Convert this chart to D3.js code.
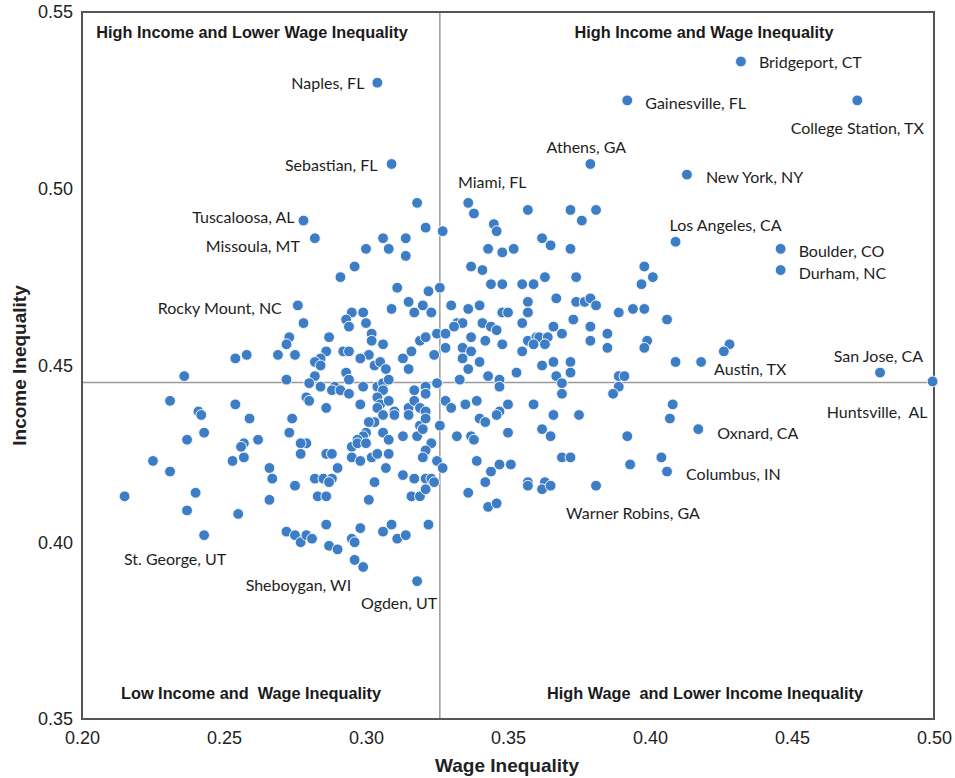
<!DOCTYPE html>
<html><head><meta charset="utf-8">
<script src="https://cdn.jsdelivr.net/npm/d3@7"></script>
<style>body{margin:0;background:#fff} svg{display:block}</style>
</head><body><svg id="c" width="955" height="778"></svg>
<script>
// ---------------- DATA ----------------
const xTicks = [0.20, 0.25, 0.30, 0.35, 0.40, 0.45, 0.50];
const yTicks = [0.35, 0.40, 0.45, 0.50, 0.55];
const xTitle = "Wage Inequality";
const yTitle = "Income Inequality";
const meanWage = 0.326;
const meanIncome = 0.4452;
const quadrantNames = ["High Income and Lower Wage Inequality", "High Income and Wage Inequality",
  "Low Income and  Wage Inequality", "High Wage  and Lower Income Inequality"];

const cityNames = ["Naples, FL","Sebastian, FL","Athens, GA","Miami, FL","Bridgeport, CT","Gainesville, FL",
  "College Station, TX","New York, NY","Los Angeles, CA","Boulder, CO","Durham, NC","San Jose, CA",
  "Huntsville,  AL","Austin, TX","Oxnard, CA","Columbus, IN","Warner Robins, GA","Ogden, UT",
  "Sheboygan, WI","St. George, UT","Rocky Mount, NC","Missoula, MT","Tuscaloosa, AL"];
const cityWage =   [0.304,0.309,0.379,0.336,0.432,0.392,0.473,0.413,0.409,0.446,0.446,0.481,
  0.4995,0.418,0.417,0.406,0.381,0.318,0.299,0.243,0.276,0.282,0.278];
const cityIncome = [0.530,0.507,0.507,0.496,0.536,0.525,0.525,0.504,0.485,0.483,0.477,0.448,
  0.4455,0.451,0.432,0.420,0.416,0.389,0.393,0.402,0.467,0.486,0.491];

const metroWage = [
 0.318,0.321,0.306,0.314,0.300,0.308,0.314,0.296,0.291,0.311,0.322,0.315,0.320,0.295,0.299,0.309,0.317,
 0.338,0.357,0.372,0.381,0.376,0.327,0.345,0.346,0.362,0.365,0.372,0.343,0.348,0.352,0.337,0.341,0.344,
 0.348,0.355,0.359,0.363,0.374,0.326,0.367,0.374,0.377,0.379,0.381,0.357,0.323,0.330,0.336,0.340,0.348,
 0.350,0.357,0.389,0.394,0.398,
 0.278,0.293,0.294,0.300,0.302,0.302,0.306,0.273,0.272,0.287,0.254,0.258,0.269,0.275,0.286,0.284,0.282,
 0.284,0.292,0.294,0.301,0.298,0.313,0.316,0.319,0.321,0.303,0.305,0.307,0.315,0.293,0.282,0.272,0.280,
 0.284,0.289,0.288,0.294,0.291,0.294,0.299,0.304,0.306,0.308,0.306,0.317,0.321,0.254,0.259,0.274,0.273,
 0.279,0.280,0.286,0.298,0.304,0.305,0.304,0.308,0.310,0.310,0.306,0.303,0.301,0.315,0.317,0.319,0.321,
 0.315,0.319,0.321,0.300,0.299,0.297,0.306,0.308,0.313,0.318,0.320,0.257,0.262,0.279,
 0.373,0.332,0.334,0.331,0.341,0.344,0.346,0.355,0.366,0.379,0.385,0.369,0.325,0.328,0.337,0.342,0.348,
 0.328,0.334,0.337,0.334,0.324,0.357,0.360,0.361,0.364,0.363,0.359,0.355,0.379,0.385,0.340,0.336,0.353,
 0.362,0.366,0.372,0.372,0.367,0.369,0.369,0.343,0.347,0.347,0.333,0.325,0.321,0.389,0.391,0.389,0.387,
 0.328,0.330,0.335,0.339,0.350,0.347,0.346,0.340,0.342,0.359,0.366,0.375,0.326,0.332,0.337,0.338,0.350,
 0.362,0.365,0.323,0.392,
 0.398,0.401,0.397,0.406,0.399,0.398,0.428,0.426,0.409,0.408,0.407,0.404,
 0.256,0.253,0.257,0.266,0.267,0.266,0.255,0.275,0.277,0.277,0.282,0.285,0.288,0.287,0.290,0.286,0.288,
 0.283,0.286,0.295,0.297,0.300,0.295,0.298,0.302,0.304,0.308,0.307,0.303,0.301,0.313,0.317,0.316,0.319,
 0.321,0.321,0.272,0.275,0.277,0.279,0.281,0.286,0.287,0.290,0.295,0.296,0.298,0.296,0.306,0.309,0.311,
 0.314,0.322,
 0.321,0.320,0.325,0.327,0.339,0.347,0.351,0.344,0.342,0.336,0.343,0.346,0.323,0.324,0.357,0.357,0.363,
 0.362,0.365,0.369,0.372,0.393,
 0.236,0.231,0.241,0.242,0.243,0.237,0.225,0.231,0.215,0.240,0.237];
const metroIncome = [
 0.496,0.489,0.486,0.486,0.483,0.483,0.481,0.478,0.475,0.472,0.471,0.468,0.467,0.465,0.465,0.466,0.465,
 0.493,0.494,0.494,0.494,0.491,0.488,0.490,0.488,0.486,0.484,0.483,0.483,0.482,0.483,0.478,0.477,0.473,
 0.473,0.473,0.473,0.475,0.475,0.472,0.469,0.468,0.468,0.469,0.467,0.468,0.465,0.467,0.466,0.467,0.465,
 0.465,0.465,0.465,0.466,0.466,
 0.462,0.463,0.461,0.462,0.459,0.457,0.456,0.458,0.456,0.458,0.452,0.453,0.453,0.453,0.454,0.452,0.451,
 0.450,0.454,0.454,0.453,0.452,0.452,0.454,0.457,0.458,0.450,0.451,0.449,0.449,0.448,0.447,0.446,0.445,
 0.444,0.444,0.443,0.446,0.443,0.442,0.444,0.444,0.445,0.446,0.443,0.443,0.444,0.439,0.435,0.435,0.431,
 0.441,0.440,0.438,0.439,0.441,0.439,0.438,0.440,0.437,0.436,0.436,0.434,0.434,0.438,0.440,0.438,0.437,
 0.436,0.433,0.435,0.431,0.430,0.429,0.431,0.429,0.430,0.430,0.432,0.428,0.429,0.428,
 0.463,0.462,0.462,0.461,0.462,0.461,0.460,0.462,0.461,0.461,0.459,0.459,0.459,0.459,0.458,0.457,0.456,
 0.455,0.455,0.454,0.452,0.453,0.457,0.458,0.458,0.458,0.456,0.456,0.454,0.457,0.455,0.451,0.449,0.448,
 0.450,0.451,0.451,0.448,0.447,0.445,0.442,0.447,0.446,0.444,0.446,0.445,0.442,0.447,0.447,0.444,0.442,
 0.440,0.438,0.439,0.440,0.439,0.437,0.436,0.435,0.434,0.439,0.436,0.436,0.433,0.430,0.430,0.429,0.431,
 0.432,0.430,0.428,0.430,
 0.478,0.475,0.473,0.463,0.457,0.455,0.456,0.454,0.451,0.439,0.435,0.424,
 0.427,0.423,0.424,0.421,0.418,0.412,0.408,0.416,0.428,0.425,0.418,0.418,0.418,0.417,0.421,0.425,0.425,
 0.413,0.413,0.427,0.428,0.428,0.424,0.423,0.424,0.425,0.425,0.421,0.417,0.412,0.419,0.418,0.413,0.413,
 0.418,0.415,0.403,0.402,0.400,0.402,0.401,0.405,0.399,0.398,0.401,0.400,0.404,0.395,0.403,0.405,0.401,
 0.402,0.405,
 0.426,0.424,0.423,0.421,0.423,0.422,0.422,0.420,0.417,0.414,0.410,0.411,0.418,0.417,0.417,0.416,0.417,
 0.415,0.416,0.424,0.424,0.422,
 0.447,0.440,0.437,0.436,0.431,0.429,0.423,0.420,0.413,0.414,0.409];

// ---------------- LAYOUT ----------------
const plot = {left: 82, right: 934, top: 12, bottom: 719};
const dotColor = "#3C7DC6";
const labelLayout = {
  "Naples, FL": ["end", -13, 0], "Sebastian, FL": ["end", -14, 0], "Athens, GA": ["middle", -4, -18],
  "Miami, FL": ["middle", 24, -21], "Bridgeport, CT": ["start", 18, 0], "Gainesville, FL": ["start", 18, 2],
  "College Station, TX": ["middle", 0, 27], "New York, NY": ["start", 19, 2], "Los Angeles, CA": ["start", -6, -17],
  "Boulder, CO": ["start", 18, 2], "Durham, NC": ["start", 18, 2], "San Jose, CA": ["end", 43, -17],
  "Huntsville,  AL": ["end", -5, 30], "Austin, TX": ["start", 13, 7], "Oxnard, CA": ["start", 19, 3],
  "Columbus, IN": ["start", 19, 2], "Warner Robins, GA": ["start", -30, 27], "Ogden, UT": ["middle", -18, 21],
  "Sheboygan, WI": ["end", -12, 18], "St. George, UT": ["middle", -29, 23], "Rocky Mount, NC": ["end", -16, 2],
  "Missoula, MT": ["end", -15, 7], "Tuscaloosa, AL": ["end", -9, -4]
};

const svg = d3.select("#c");
const x = d3.scaleLinear().domain([xTicks[0], xTicks[xTicks.length-1]]).range([plot.left, plot.right]);
const y = d3.scaleLinear().domain([yTicks[0], yTicks[yTicks.length-1]]).range([plot.bottom, plot.top]);

// axes (labels only)
const gx = svg.append("g").attr("transform", `translate(0,${plot.bottom})`)
  .call(d3.axisBottom(x).tickValues(xTicks).tickFormat(d3.format(".2f")).tickSize(0).tickPadding(12));
const gy = svg.append("g").attr("transform", `translate(${plot.left},0)`)
  .call(d3.axisLeft(y).tickValues(yTicks).tickFormat(d3.format(".2f")).tickSize(0).tickPadding(9));
[gx, gy].forEach(g => {
  g.select(".domain").remove();
  g.selectAll("text").attr("font-family", "Liberation Sans, Arial, sans-serif")
    .attr("font-size", 18).attr("fill", "#222");
});

// mean lines
svg.append("line").attr("x1", x(meanWage)).attr("x2", x(meanWage))
  .attr("y1", plot.top).attr("y2", plot.bottom).attr("stroke", "#9a9a9a").attr("stroke-width", 1.5);
svg.append("line").attr("x1", plot.left).attr("x2", plot.right)
  .attr("y1", y(meanIncome)).attr("y2", y(meanIncome)).attr("stroke", "#9a9a9a").attr("stroke-width", 1.5);

// frame
svg.append("rect").attr("x", plot.left).attr("y", plot.top)
  .attr("width", plot.right - plot.left).attr("height", plot.bottom - plot.top)
  .attr("fill", "none").attr("stroke", "#555").attr("stroke-width", 2);

// quadrant labels
const qPos = [[252, 32], [704, 32], [251, 693], [705, 693]];
svg.selectAll("text.q").data(quadrantNames).join("text").attr("class", "q")
  .attr("x", (d, i) => qPos[i][0]).attr("y", (d, i) => qPos[i][1])
  .attr("text-anchor", "middle").attr("dominant-baseline", "central")
  .attr("font-family", "Liberation Sans, Arial, sans-serif").attr("font-weight", "bold")
  .attr("font-size", 16.3).attr("fill", "#1a1a1a").style("white-space", "pre").text(d => d);

// points
const metros = metroWage.map((w, i) => [w, metroIncome[i]]);
const cities = cityNames.map((n, i) => ({name: n, w: cityWage[i], inc: cityIncome[i]}));
const allPts = metros.concat(cities.map(c => [c.w, c.inc]));
svg.append("g").selectAll("circle").data(allPts).join("circle")
  .attr("cx", d => x(d[0])).attr("cy", d => y(d[1])).attr("r", 5.4)
  .attr("fill", dotColor).attr("stroke", "#f4f8fc").attr("stroke-width", 1);

// city labels
svg.append("g").selectAll("text").data(cities).join("text")
  .attr("x", d => x(d.w) + labelLayout[d.name][1])
  .attr("y", d => y(d.inc) + labelLayout[d.name][2])
  .attr("text-anchor", d => labelLayout[d.name][0]).attr("dominant-baseline", "central")
  .attr("font-family", "Lato, 'Open Sans', sans-serif").attr("font-size", 16)
  .attr("fill", "#1e1e1e").style("white-space", "pre").text(d => d.name);

// axis titles
svg.append("text").attr("x", (plot.left + plot.right) / 2 - 1).attr("y", 765)
  .attr("text-anchor", "middle").attr("dominant-baseline", "central")
  .attr("font-family", "Liberation Sans, Arial, sans-serif").attr("font-weight", "bold")
  .attr("font-size", 19).attr("fill", "#222").text(xTitle);
svg.append("text").attr("transform", `translate(19,${(plot.top + plot.bottom) / 2}) rotate(-90)`)
  .attr("text-anchor", "middle").attr("dominant-baseline", "central")
  .attr("font-family", "Liberation Sans, Arial, sans-serif").attr("font-weight", "bold")
  .attr("font-size", 19).attr("fill", "#222").text(yTitle);
</script></body></html>
